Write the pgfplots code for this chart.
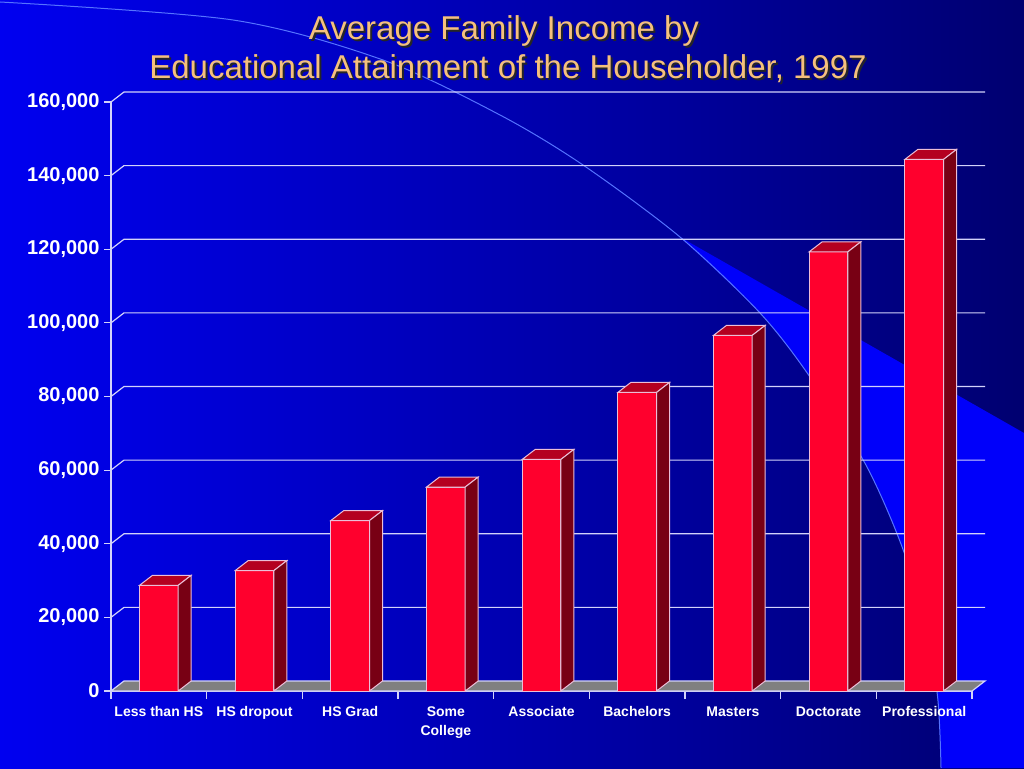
\documentclass[border=0pt]{standalone}
\usepackage{pgfplots}
\usepackage{pgfplotstable}
\usepackage{fontspec}
\setmainfont{Liberation Sans}
\pgfplotsset{compat=1.18}

\definecolor{bgL}{RGB}{0,0,240}
\definecolor{bgR}{RGB}{0,0,112}
\definecolor{wedge}{RGB}{0,0,250}
\definecolor{arcline}{RGB}{85,115,255}
\definecolor{gridc}{RGB}{210,210,250}
\definecolor{edgec}{RGB}{235,190,215}
\definecolor{barfront}{RGB}{255,0,45}
\definecolor{bartop}{RGB}{180,0,32}
\definecolor{barside}{RGB}{120,0,20}
\definecolor{floorc}{RGB}{128,128,128}
\definecolor{titlec}{RGB}{245,192,125}

% average family income, 1997
\pgfplotstableread{
x  y
0  28700
1  32700
2  46300
3  55400
4  62900
5  81100
6  96600
7  119300
8  144400
}\income

\begin{document}
\begin{tikzpicture}
\useasboundingbox (0pt,0pt) rectangle (1024pt,768pt);
% slide background
\shade[left color=bgL, right color=bgR] (0pt,0pt) rectangle (1024pt,768pt);
\fill[wedge] (680pt,531pt) -- (1024pt,335pt) -- (1024pt,0pt) -- (941pt,0pt)
  -- plot[smooth] coordinates {(941pt,0pt) (937pt,76pt) (920pt,148pt) (905pt,213pt)
     (867pt,301pt) (810pt,391pt) (760pt,455pt) (680pt,531pt)} -- cycle;
\draw[arcline, line width=1pt] plot[smooth] coordinates {(0pt,766pt) (233pt,748pt)
  (383pt,708pt) (500pt,653pt) (583pt,603pt) (680pt,531pt) (760pt,455pt) (810pt,391pt)
  (867pt,301pt) (905pt,213pt) (920pt,148pt) (937pt,76pt) (941pt,0pt)};

% title with shadow
\foreach \dx/\dy/\col in {2pt/-2pt/black!85, 0pt/0pt/titlec}{
  \node[anchor=base, text=\col, font=\fontsize{33}{40}\selectfont]
    at ([xshift=\dx,yshift=\dy]504pt,728pt) {Average Family Income by};
  \node[anchor=base, text=\col, font=\fontsize{33}{40}\selectfont]
    at ([xshift=\dx,yshift=\dy]508pt,689pt) {Educational Attainment of the Householder, 1997};
}

\begin{axis}[
  at={(111pt,77pt)}, anchor=south west,
  scale only axis, width=861pt, height=589pt,
  xmin=-0.5, xmax=8.5, ymin=0, ymax=160000,
  clip=false,
  axis lines=left,
  axis line style={draw=gridc, line width=1.2pt, -},
  xtick={0,...,8},
  xticklabels={Less than HS, HS dropout, HS Grad, {Some\\College}, Associate,
    Bachelors, Masters, Doctorate, Professional},
  x tick label style={align=center, text=white, anchor=north, yshift=-5pt,
    font=\bfseries\fontsize{14}{18.7}\selectfont},
  major x tick style={draw=none},
  minor xtick={-0.5,0.5,...,8.5},
  minor x tick style={draw=gridc, line width=1.2pt},
  ytick={0,20000,40000,60000,80000,100000,120000,140000,160000},
  y tick label style={text=white, xshift=-1pt, font=\bfseries\fontsize{20}{24}\selectfont},
  y tick style={draw=gridc, line width=1.2pt},
  tick align=outside,
  major tick length=7pt, minor tick length=8pt,
  scaled y ticks=false,
  /pgf/number format/fixed,
  /pgf/number format/1000 sep={,},
  /pgf/number format/assume math mode=true,
]
% back wall gridlines and side-wall connectors
\pgfplotsinvokeforeach{20000,40000,60000,80000,100000,120000,140000,160000}{
  \draw[gridc, line width=1.2pt] (axis cs:-0.5,#1) -- ++(13pt,10pt) -- ++(861pt,0pt);
}
% floor
\fill[floorc, draw=gridc, line width=1.2pt] (axis cs:-0.5,0) -- ++(13pt,10pt)
  -- ++(861pt,0pt) -- ++(-13pt,-10pt) -- cycle;

% top and side faces of the columns (height from meta mapped to 0..1000)
\addplot[scatter, only marks, mark=*, mark size=0pt,
  mark options={draw=none, fill=none},
  point meta=y, point meta min=0, point meta max=160000,
  scatter/@pre marker code/.code={
    \edef\h{\fpeval{\pgfplotspointmetatransformed*0.589}}
    \filldraw[fill=bartop, draw=edgec, line width=1pt]
      (-19.35pt,0pt) -- (19.35pt,0pt) -- ++(13pt,10pt) -- ++(-38.7pt,0pt) -- cycle;
    \filldraw[fill=barside, draw=edgec, line width=1pt]
      (19.35pt,0pt) -- ++(13pt,10pt) -- ++(0pt,-\h pt) -- ++(-13pt,-10pt) -- cycle;
  },
  scatter/@post marker code/.code={}]
  table[x=x, y=y] {\income};

% front faces
\addplot[ybar, bar width=38.7pt, fill=barfront, draw=edgec, line width=1pt]
  table[x=x, y=y] {\income};
\end{axis}
\end{tikzpicture}
\end{document}
